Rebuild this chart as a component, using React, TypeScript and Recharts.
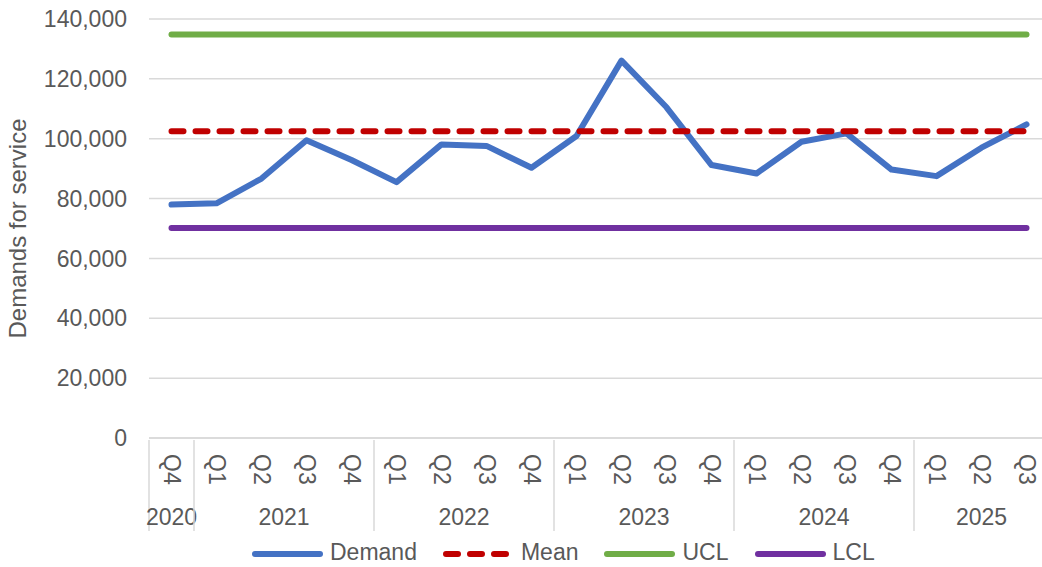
import { LineChart, Line, XAxis, YAxis, CartesianGrid, Legend } from 'recharts'

const FONT = '"Liberation Sans", Arial, sans-serif'
const TEXT = '#595959'
const GRID = '#D9D9D9'

// quarterly demand, 2020 Q4 -> 2025 Q3
const quarters = ['Q4', 'Q1', 'Q2', 'Q3', 'Q4', 'Q1', 'Q2', 'Q3', 'Q4', 'Q1', 'Q2', 'Q3', 'Q4', 'Q1', 'Q2', 'Q3', 'Q4', 'Q1', 'Q2', 'Q3']
const years = ['2020', '2021', '2021', '2021', '2021', '2022', '2022', '2022', '2022', '2023', '2023', '2023', '2023', '2024', '2024', '2024', '2024', '2025', '2025', '2025']
const demand = [78000, 78400, 86700, 99500, 92900, 85500, 98100, 97600, 90300, 100900, 126100, 110500, 91200, 88400, 99000, 101800, 89700, 87500, 97000, 104800]

const MEAN = 102500
const UCL = 134800
const LCL = 70200

const yTicks = [0, 20000, 40000, 60000, 80000, 100000, 120000, 140000]

const series = [
  { key: 'demand', name: 'Demand', color: '#4472C4', dash: undefined },
  { key: 'mean', name: 'Mean', color: '#C00000', dash: '12 12' },
  { key: 'ucl', name: 'UCL', color: '#70AD47', dash: undefined },
  { key: 'lcl', name: 'LCL', color: '#7030A0', dash: undefined },
]

const rows = quarters.map((q, i) => ({
  period: `${years[i]} ${q}`,
  quarter: q,
  year: years[i],
  demand: demand[i],
  mean: MEAN,
  ucl: UCL,
  lcl: LCL,
}))

const CHART_W = 1049
const CHART_H = 567
const TOP = 19
const Y_AXIS_W = 149
const X_AXIS_H = 99
const LEGEND_H = 30
const PLOT_W = CHART_W - Y_AXIS_W
const PLOT_BOTTOM = CHART_H - LEGEND_H - X_AXIS_H

function CategoryTick(props: any) {
  const { x, y, index } = props
  const row = rows[index]
  if (!row) return null
  const band = PLOT_W / rows.length
  const groupStart = index === 0 || rows[index - 1].year !== row.year
  let size = 0
  if (groupStart) {
    while (index + size < rows.length && rows[index + size].year === row.year) size++
  }
  const left = x - band / 2
  return (
    <g>
      <text
        transform={`translate(${x},${y + 14}) rotate(90)`}
        textAnchor="start"
        dominantBaseline="central"
        fill={TEXT}
        fontSize={23}
        fontFamily={FONT}
      >
        {row.quarter}
      </text>
      {groupStart && (
        <>
          <line x1={left} x2={left} y1={y} y2={y + 91} stroke={GRID} strokeWidth={1.5} />
          <text x={left + (size * band) / 2} y={y + 85} textAnchor="middle" fill={TEXT} fontSize={23} fontFamily={FONT}>
            {row.year}
          </text>
        </>
      )}
    </g>
  )
}

function renderLegend() {
  return (
    <div style={{ display: 'flex', alignItems: 'center', height: LEGEND_H, marginLeft: 252, fontFamily: FONT, fontSize: 23, color: TEXT, lineHeight: '30px' }}>
      {series.map(s => (
        <div key={s.key} style={{ display: 'flex', alignItems: 'center', marginRight: 26 }}>
          <svg width={71} height={12} style={{ marginRight: 7, marginTop: 4 }}>
            <line x1={3} x2={68} y1={6} y2={6} stroke={s.color} strokeWidth={6} strokeLinecap="round" strokeDasharray={s.dash} />
          </svg>
          <span>{s.name}</span>
        </div>
      ))}
    </div>
  )
}

export default function App() {
  return (
    <div style={{ position: 'fixed', left: 0, top: 0, width: 1042, height: 567, overflow: 'hidden', background: '#fff' }}>
      <LineChart width={CHART_W} height={CHART_H} data={rows} margin={{ top: TOP, right: 0, bottom: 0, left: 0 }}>
        <CartesianGrid vertical={false} stroke={GRID} strokeWidth={1.5} />
        <XAxis
          dataKey="period"
          scale="band"
          interval={0}
          height={X_AXIS_H}
          tickLine={false}
          tickSize={0}
          axisLine={{ stroke: GRID, strokeWidth: 1.5 }}
          tick={(p: any) => <CategoryTick {...p} />}
        />
        <YAxis
          width={Y_AXIS_W}
          domain={[0, 140000]}
          ticks={yTicks}
          interval={0}
          axisLine={false}
          tickLine={false}
          tickSize={8}
          tickMargin={14}
          tick={{ fill: TEXT, fontSize: 23, fontFamily: FONT }}
          tickFormatter={(v: number) => v.toLocaleString('en-US')}
          label={() => (
            <text
              transform={`translate(26,${(TOP + PLOT_BOTTOM) / 2}) rotate(-90)`}
              textAnchor="middle"
              fill={TEXT}
              fontSize={24}
              fontFamily={FONT}
            >
              Demands for service
            </text>
          )}
        />
        <Legend verticalAlign="bottom" height={LEGEND_H} content={renderLegend} />
        {series.map(s => (
          <Line
            key={s.key}
            dataKey={s.key}
            name={s.name}
            type="linear"
            stroke={s.color}
            strokeWidth={6}
            strokeDasharray={s.dash}
            strokeLinecap="round"
            strokeLinejoin="round"
            dot={false}
            activeDot={false}
            isAnimationActive={false}
          />
        ))}
      </LineChart>
    </div>
  )
}
